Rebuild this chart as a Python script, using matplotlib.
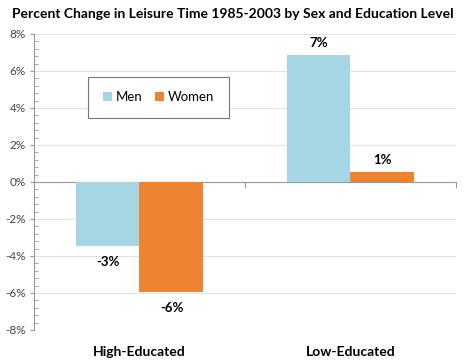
import numpy as np
import matplotlib.pyplot as plt

plt.rcParams['font.family'] = ['Lato', 'DejaVu Sans']

categories = ['High-Educated', 'Low-Educated']
men = [-3.45, 6.85]
women = [-5.95, 0.56]
y_ticks = [-8, -6, -4, -2, 0, 2, 4, 6, 8]

blue = '#A6D6E4'
orange = '#EE8432'

fig = plt.figure(figsize=(4.65, 3.62), dpi=100)
ax = fig.add_axes([0.0731, 0.0884, 0.9075, 0.8177])

x = np.arange(len(categories))
w = 0.303
b1 = ax.bar(x - w / 2, men, w, color=blue, label='Men', zorder=3)
b2 = ax.bar(x + w / 2, women, w, color=orange, label='Women', zorder=3)

# data labels, outside end like excel
for bars in (b1, b2):
    for r in bars:
        v = r.get_height()
        top = r.get_y() + v
        off = 12 if v >= 0 else -16
        ax.annotate('%d%%' % round(v), (r.get_x() + r.get_width() / 2, top),
                    xytext=(0, off), textcoords='offset pixels',
                    ha='center', va='center', fontsize=9.5, fontweight='bold')

ax.set_xlim(-0.5, 1.5)
ax.set_ylim(-8, 8)
ax.set_yticks(y_ticks)
ax.set_yticklabels(['%d%%' % t for t in y_ticks], fontsize=8.5, color='#444444')
ax.set_yticks(np.arange(-8, 8.01, 0.4), minor=True)
ax.tick_params(axis='y', which='major', direction='out', length=3, color='#999999', pad=3)
ax.tick_params(axis='y', which='minor', direction='in', length=3, color='#999999')
ax.grid(axis='y', which='major', color='#E3E3E3', linewidth=0.8, zorder=0)

# x axis sits at zero, ticks at category boundaries
ax.spines['bottom'].set_position(('data', 0))
ax.spines['bottom'].set_color('#999999')
ax.set_xticks([-0.5, 0.5, 1.5])
ax.set_xticklabels([])
ax.tick_params(axis='x', direction='out', length=4, color='#999999')
ax.spines['left'].set_color('#999999')
ax.spines['top'].set_visible(False)
ax.spines['right'].set_visible(False)

for i, c in enumerate(categories):
    ax.text(i, -0.074, c, transform=ax.get_xaxis_transform(),
            ha='center', va='center', fontsize=10, fontweight='bold')

leg = ax.legend(loc='center', bbox_to_anchor=(0.295, 0.787), ncol=2, fontsize=9.5,
                handlelength=0.7, handleheight=0.7, handletextpad=0.3,
                columnspacing=0.9, borderpad=1.1, fancybox=False, framealpha=1)
leg.get_frame().set_edgecolor('#777777')
leg.get_frame().set_linewidth(0.8)

fig.text(0.5, 0.962, 'Percent Change in Leisure Time 1985-2003 by Sex and Education Level',
         ha='center', va='center', fontsize=10, fontweight='bold')

fig.savefig('out.png', dpi=100)
